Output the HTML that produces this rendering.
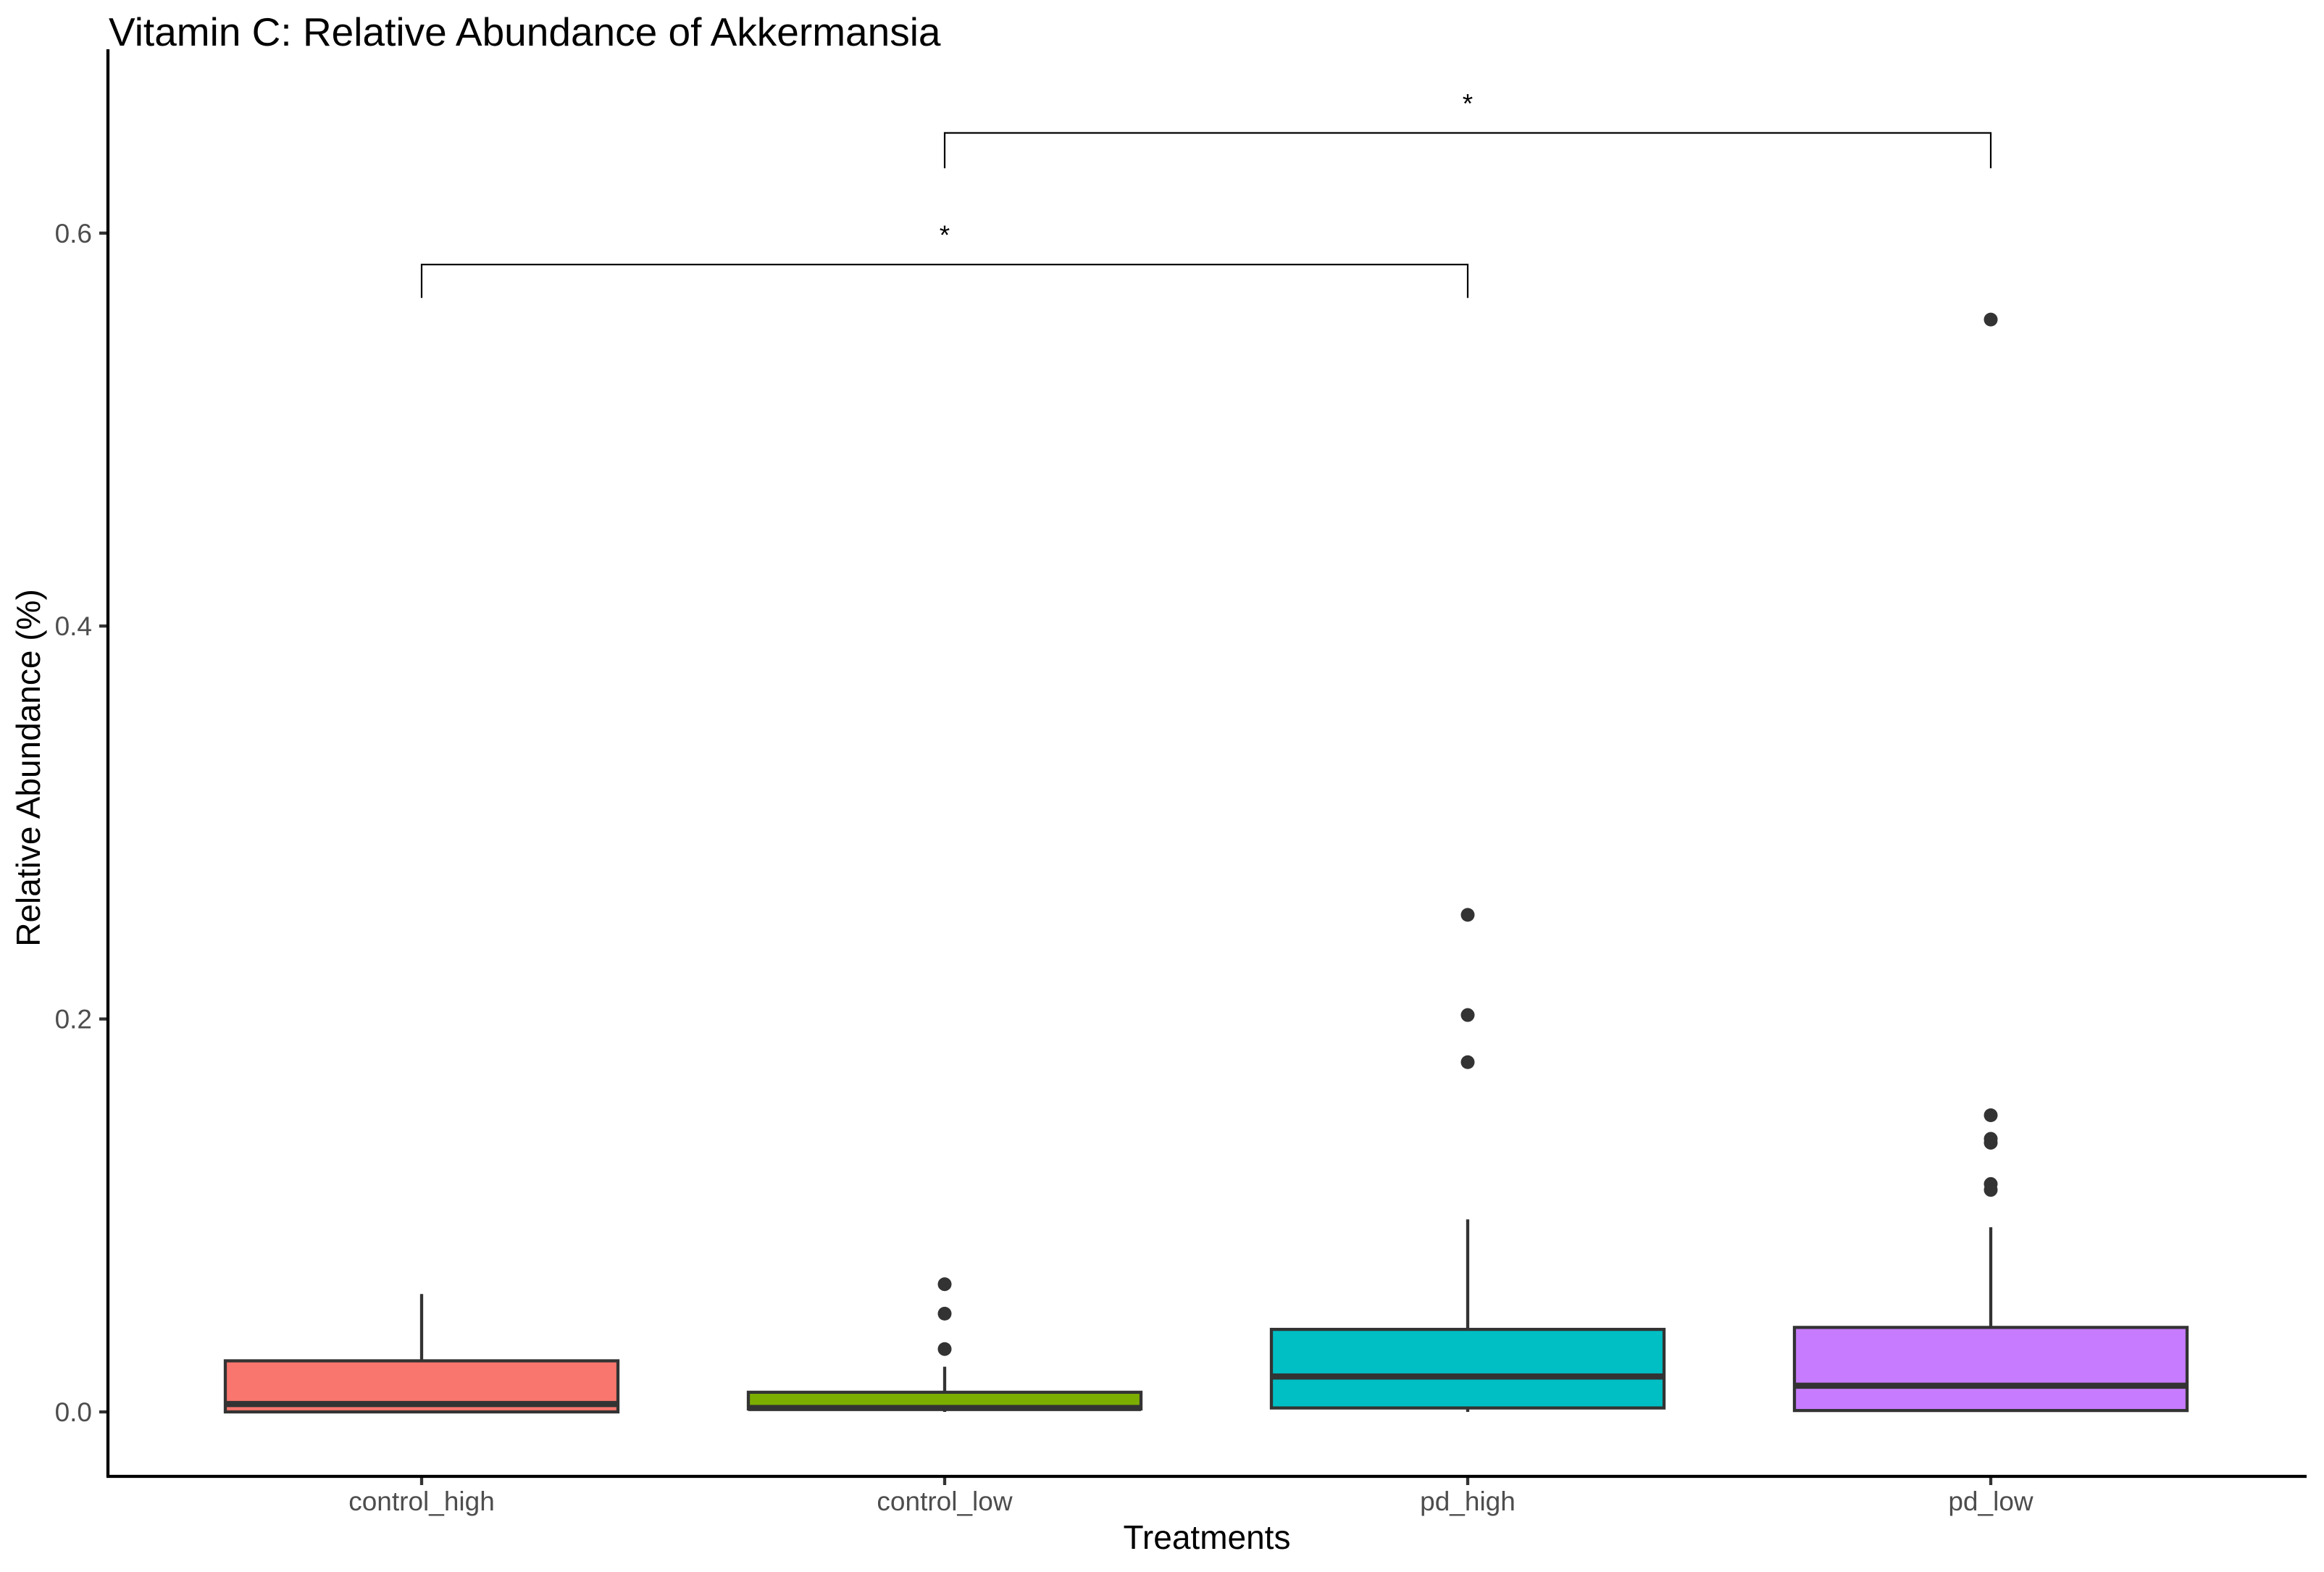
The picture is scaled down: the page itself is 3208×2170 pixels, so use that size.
<!DOCTYPE html>
<html><head><meta charset="utf-8"><style>
html,body{margin:0;padding:0;background:#fff;}
svg{display:block;font-family:"Liberation Sans",Arial,sans-serif;}
</style></head><body>
<svg id="chart" width="3208" height="2170" viewBox="0 0 3208 2170" xmlns="http://www.w3.org/2000/svg">
<rect width="3208" height="2170" fill="#fff"/>
<text x="150" y="63" font-size="55" fill="#000">Vitamin C: Relative Abundance of Akkermansia</text>
<g id="plot"></g>
<line x1="149" y1="68" x2="149" y2="2039" stroke="#000" stroke-width="4.3"/>
<line x1="147" y1="2038" x2="3184" y2="2038" stroke="#000" stroke-width="4.3"/>
<text x="1666" y="2138" font-size="46" text-anchor="middle" fill="#000">Treatments</text>
<text transform="translate(55,1060) rotate(-90)" font-size="46" text-anchor="middle" fill="#000">Relative Abundance (%)</text>
</svg>
<script>
const categories = ["control_high","control_low","pd_high","pd_low"];
const fills = ["#F8766D","#7CAE00","#00BFC4","#C77CFF"];
const lowerWhisker = [0.0, 0.0, 0.0, 0.0];
const q1 = [0.0, 0.0015, 0.002, 0.0007];
const medians = [0.004, 0.002, 0.018, 0.0133];
const q3 = [0.026, 0.010, 0.042, 0.043];
const upperWhisker = [0.060, 0.023, 0.098, 0.094];
const outliersControlHigh = [];
const outliersControlLow = [0.065, 0.050, 0.032];
const outliersPdHigh = [0.253, 0.202, 0.178];
const outliersPdLow = [0.556, 0.151, 0.139, 0.137, 0.116, 0.113];
const yTicks = [0.0, 0.2, 0.4, 0.6];
const yTickLabels = ["0.0","0.2","0.4","0.6"];
const bracketFrom = [0, 1];
const bracketTo = [2, 3];
const bracketY = [0.584, 0.651];
const bracketTip = [0.567, 0.633];
const bracketLabels = ["*","*"];

const NS = "http://www.w3.org/2000/svg";
const g = document.getElementById("plot");
const y = v => 1949 - v * 2712;
const x = i => 582 + i * 722;
const halfW = 271;
function el(tag, attrs) { const e = document.createElementNS(NS, tag); for (const k in attrs) e.setAttribute(k, attrs[k]); g.appendChild(e); return e; }

yTicks.forEach((t, i) => {
  const tk = el("line", {x1: 137, x2: 149, y1: y(t), y2: y(t), stroke: "#333", "stroke-width": 4.3});
  
  
  const lb = el("text", {x: 127, y: y(t) + 13, "font-size": 37, fill: "#4d4d4d", "text-anchor": "end"});
  lb.textContent = yTickLabels[i];
  
  
});

const outliers = [outliersControlHigh, outliersControlLow, outliersPdHigh, outliersPdLow];
categories.forEach((c, i) => {
  const cx = x(i);
  const tk = el("line", {x1: cx, x2: cx, y1: 2038, y2: 2050, stroke: "#333", "stroke-width": 4.3});
  
  
  const lb = el("text", {x: cx, y: 2085, "font-size": 37, fill: "#4d4d4d", "text-anchor": "middle"});
  lb.textContent = c;
  
  
  const wu = el("line", {x1: cx, x2: cx, y1: y(q3[i]), y2: y(upperWhisker[i]), stroke: "#333", "stroke-width": 4.3});
  
  
  const wl = el("line", {x1: cx, x2: cx, y1: y(q1[i]), y2: y(lowerWhisker[i]), stroke: "#333", "stroke-width": 4.3});
  
  
  const bx = el("rect", {x: cx - halfW, y: y(q3[i]), width: halfW * 2, height: Math.max(1, y(q1[i]) - y(q3[i])), fill: fills[i], stroke: "#333", "stroke-width": 4.3});
  
  
  const md = el("line", {x1: cx - halfW, x2: cx + halfW, y1: y(medians[i]), y2: y(medians[i]), stroke: "#333", "stroke-width": 8.5});
  
  
  outliers[i].forEach(v => {
    const p = el("circle", {cx: cx, cy: y(v), r: 9.5, fill: "#333"});
    
    
  });
});

bracketFrom.forEach((a, k) => {
  const x1 = x(a), x2 = x(bracketTo[k]);
  const br = el("path", {d: `M${x1},${y(bracketTip[k])} V${y(bracketY[k])} H${x2} V${y(bracketTip[k])}`, fill: "none", stroke: "#000", "stroke-width": 2.2});
  
  
  const st = el("text", {x: (x1 + x2) / 2, y: y(bracketY[k]) - 28, "font-size": 37, "text-anchor": "middle", fill: "#000"});
  st.textContent = bracketLabels[k];
  
  
});
</script>
</body></html>
